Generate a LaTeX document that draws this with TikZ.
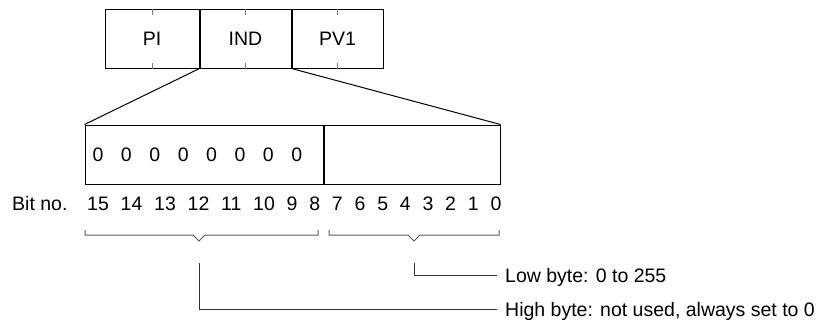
\documentclass[tikz,border=0pt]{standalone}
\usepackage{fontspec}
\setmainfont{Liberation Sans}
\usetikzlibrary{positioning}
\definecolor{tickgray}{HTML}{7a7a7a}
\definecolor{bracegray}{HTML}{5a5a5a}
\definecolor{leadgray}{HTML}{303030}
\newcommand\regfont{\fontsize{19.5}{23}\selectfont}
\tikzset{
  regbox/.style  = {draw, line width=1pt, minimum height=59pt,
                    inner sep=0pt, font=\regfont},
  bitval/.style  = {inner sep=0pt, font=\regfont},
  bitnum/.style  = {inner sep=0pt, text height=14pt, text depth=0pt,
                    font=\regfont},
  note/.style    = {inner xsep=8pt, inner ysep=0pt, text height=14pt,
                    text depth=0pt, anchor=west, font=\regfont},
  tick/.style    = {draw=tickgray, line width=1pt},
  fan/.style     = {line width=1pt},
  brace/.style   = {draw=bracegray, line width=1pt},
  leader/.style  = {draw=leadgray, line width=1pt},
}
\begin{document}
\begin{tikzpicture}[x=1pt, y=-1pt]
    \useasboundingbox (0,0) rectangle (829,322);

    % parameter block
    \node[regbox, minimum width=94pt]                 (pi)  at (152,38.5) {PI};
    \node[regbox, minimum width=91pt, right=0pt of pi]  (ind) {IND};
    \node[regbox, minimum width=91pt, right=0pt of ind] (pv)  {PV1};
    \draw[line width=2pt] (pv.north west) -- (pv.south west);
    \foreach \n in {pi,ind,pv} {
      \draw[tick] (\n.north) -- ++(0,6);
      \draw[tick] (\n.south) -- ++(0,-6);
    }

    % IND word
    \node[regbox, minimum width=238pt]                (hi) at (204,154.5) {};
    \node[regbox, minimum width=176pt, right=0pt of hi] (lo) {};
    \foreach \i in {0,...,7}
      \node[bitval] (z\i) at ({98+28.4*\i},154.5) {0};

    \draw[fan] (pi.south east)  -- (hi.north west);
    \draw[fan] (ind.south east) -- (lo.north east);

    % bit numbers
    \node[bitnum, anchor=west] (bitno) at (12,203) {Bit no.};
    \node[bitnum, anchor=west] (b15)   at (87,203) {15};
    \foreach \b [remember=\b as \prev (initially 15)] in {14,...,0}
      \node[bitnum, right=11.4pt of b\prev] (b\b) {\b};

    % braces
    \coordinate (hitip) at (199,241);
    \coordinate (lotip) at (414,241);
    \draw[brace] (85,230) |- (193,235) -- (hitip) -- (205,235) -| (318,230);
    \draw[brace] (329,230) |- (408,235) -- (lotip) -- (420,235) -| (499,230);

    % notes
    \node[note] (lotxt) at (497,275) {Low byte: 0 to 255};
    \node[note] (hitxt) at (497,309) {High byte: not used, always set to 0};
    \coordinate (lofoot) at (414,263);
    \coordinate (hifoot) at (199,263);
    \draw[leader] (lofoot) |- (lotxt);
    \draw[leader] (hifoot) |- (hitxt);
\end{tikzpicture}
\end{document}
